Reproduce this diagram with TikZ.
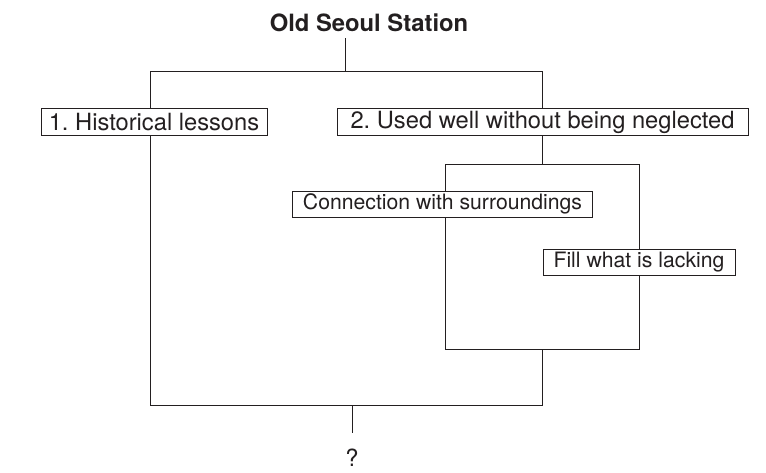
\documentclass[tikz,border=0pt]{standalone}
\usepackage{fontspec}
\setmainfont{TeX Gyre Heros}
\usetikzlibrary{positioning}
\definecolor{ink}{HTML}{231F20}
\frenchspacing

\begin{document}
\begin{tikzpicture}[x=1pt,y=-1pt,line width=0.9pt,draw=ink,text=ink]
	\tikzstyle{topic}=[draw,fill=white,inner sep=0pt,minimum height=27pt,
		font=\fontsize{23.7}{26}\selectfont]
	\tikzstyle{aspect}=[draw,fill=white,inner sep=0pt,minimum height=26pt,
		font=\fontsize{21.2}{24}\selectfont]
	\useasboundingbox (0,0) rectangle (766,472);
	
	% frame round the two aspects
	\coordinate (fa) at (445,164);
	\coordinate (fb) at (639,349);
	\draw (fa) rectangle (fb);
	
	\node[font=\bfseries\fontsize{23.8}{26}\selectfont] (station) at (369,23) {Old Seoul Station};
	\node[topic,minimum width=226pt] (lessons) at (154,122) {1. Historical lessons};
	\node[topic,minimum width=411pt] (used) at (542.5,122) {2. Used well without being neglected};
	\node[aspect,minimum width=300pt] (conn) at (442.5,204) {Connection with surroundings};
	\node[aspect,minimum width=192pt] (fill) at (639,262) {Fill what is lacking};
	\node[font=\fontsize{23.7}{26}\selectfont] (quest) at (352,458) {?};
	
	\coordinate (st) at (345,38);
	\coordinate (sj) at (345,71);
	\coordinate (l1) at (150,71);
	\coordinate (u1) at (542,71);
	\coordinate (l2) at (150,405);
	\coordinate (u2) at (542,405);
	\coordinate (qj) at (352,405);
	\coordinate (qe) at (352,433);
	\coordinate (ft) at (542,164);
	\coordinate (fbm) at (542,349);
	
	\draw (st) -- (sj);
	\draw (lessons.north -| l1) -- (l1) -- (u1) -- (used.north -| u1);
	\draw (lessons.south -| l1) -- (l2) -- (u2) -- (fbm);
	\draw (used.south -| ft) -- (ft);
	\draw (qj) -- (qe);
\end{tikzpicture}
\end{document}
